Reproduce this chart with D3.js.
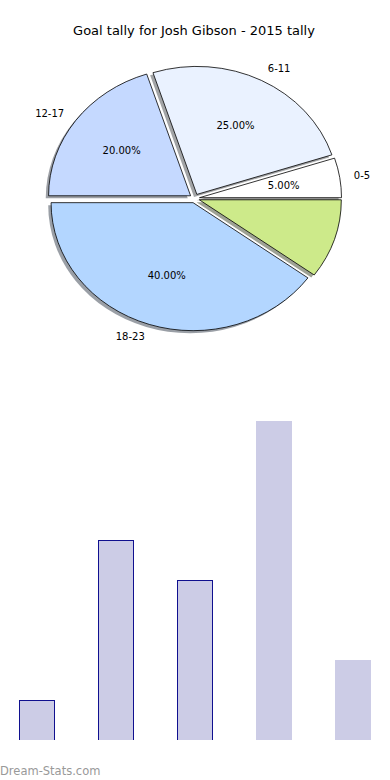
<!DOCTYPE html>
<html>
<head>
<meta charset="utf-8">
<script src="https://cdn.jsdelivr.net/npm/d3@7"></script>
<style>
  body { margin: 0; background: #fff; }
  text { font-family: "DejaVu Sans", sans-serif; }
</style>
</head>
<body>
<div id="chart"></div>
<script>
// data
const categories = ["0-5", "6-11", "12-17", "18-23", ""];
const goals = [1, 5, 4, 8, 2];
const sliceColors = ["#ffffff", "#eaf2ff", "#c5d9ff", "#b3d6ff", "#cdea8a"];
const titleText = "Goal tally for Josh Gibson - 2015 tally";

const width = 390, height = 780;

const svg = d3.select("#chart")
  .append("svg")
  .attr("width", width)
  .attr("height", height);

svg.append("text")
  .attr("x", 194)
  .attr("y", 30)
  .attr("text-anchor", "middle")
  .attr("dominant-baseline", "central")
  .style("font-size", "13px")
  .text(titleText);

// ---- pie (matplotlib style: start at 3 o'clock, counter clockwise) ----
const cx = 194.6, cy = 198.4, rx = 142, ry = 128;
const k = ry / rx;
const explode = 0.035, shadowOff = 0.02;

const total = d3.sum(goals);
const pie = d3.pie().sort(null)
  .startAngle(Math.PI / 2)
  .endAngle(Math.PI / 2 - 2 * Math.PI);
const arcs = pie(goals);
const arc = d3.arc().innerRadius(0).outerRadius(rx);

const pieG = svg.append("g")
  .attr("transform", `translate(${cx},${cy}) scale(1,${k})`);

const mid = d => (d.startAngle + d.endAngle) / 2;
const offset = d => [explode * rx * Math.sin(mid(d)), -explode * rx * Math.cos(mid(d))];

// shadows first, below all wedges
pieG.selectAll("path.shadow")
  .data(arcs)
  .enter()
  .append("path")
  .attr("class", "shadow")
  .attr("transform", d => {
    const o = offset(d);
    return `translate(${o[0] - shadowOff * rx},${o[1] + shadowOff * rx})`;
  })
  .attr("d", arc)
  .attr("fill", (d, i) => {
    const c = d3.rgb(sliceColors[i]);
    return d3.rgb(c.r * 0.3, c.g * 0.3, c.b * 0.3);
  })
  .attr("fill-opacity", 0.5);

pieG.selectAll("path.wedge")
  .data(arcs)
  .enter()
  .append("path")
  .attr("class", "wedge")
  .attr("transform", d => `translate(${offset(d)})`)
  .attr("d", arc)
  .attr("fill", (d, i) => sliceColors[i])
  .attr("stroke", "#000")
  .attr("stroke-width", 0.8)
  .attr("vector-effect", "non-scaling-stroke")
  .attr("stroke-linejoin", "round");

const pos = (d, r) => {
  const a = mid(d);
  return [cx + (explode + r) * rx * Math.sin(a), cy - (explode + r) * ry * Math.cos(a)];
};

const labels = svg.append("g");
arcs.forEach((d, i) => {
  if (!categories[i]) return;
  const p = pos(d, 1.1);
  labels.append("text")
    .attr("x", p[0])
    .attr("y", p[1])
    .attr("text-anchor", p[0] > cx ? "start" : "end")
    .attr("dominant-baseline", "central")
    .style("font-size", "10px")
    .text(categories[i]);
  const q = pos(d, 0.6);
  labels.append("text")
    .attr("x", q[0])
    .attr("y", q[1])
    .attr("text-anchor", "middle")
    .attr("dominant-baseline", "central")
    .style("font-size", "10px")
    .text((100 * goals[i] / total).toFixed(2) + "%");
});

// ---- bars ----
const x = d3.scaleBand()
  .domain(d3.range(goals.length))
  .range([19.3, 370.9])
  .paddingInner(0.55)
  .paddingOuter(0);

const y = d3.scaleLinear()
  .domain([0, d3.max(goals)])
  .range([740, 421]);

svg.append("clipPath")
  .attr("id", "barclip")
  .append("rect")
  .attr("x", 0).attr("y", 0)
  .attr("width", width).attr("height", 740);

svg.append("g")
  .attr("clip-path", "url(#barclip)")
  .selectAll("rect")
  .data(goals)
  .enter()
  .append("rect")
  .attr("x", (d, i) => x(i))
  .attr("y", d => y(d))
  .attr("width", x.bandwidth())
  .attr("height", d => y(0) - y(d) + 2)
  .attr("fill", "#cccce6")
  // only the first three bars carry an outline in the original
  .attr("stroke", (d, i) => i < 3 ? "#10108f" : "none")
  .attr("stroke-width", 1)
  .attr("shape-rendering", "crispEdges");

svg.append("text")
  .attr("x", 0)
  .attr("y", 771)
  .attr("dominant-baseline", "central")
  .style("font-size", "11.5px")
  .attr("fill", "#999")
  .text("Dream-Stats.com");
</script>
</body>
</html>
